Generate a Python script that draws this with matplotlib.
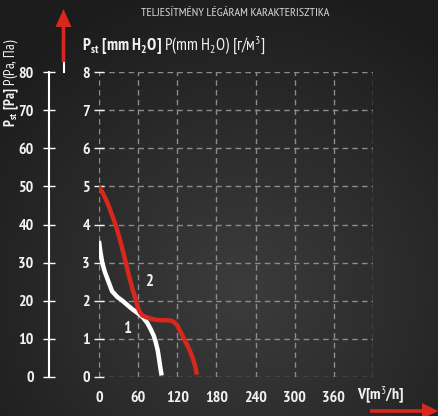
import numpy as np
import matplotlib
matplotlib.use("Agg")
import matplotlib.pyplot as plt
from matplotlib.patches import Polygon

FONT = ["PT Sans Narrow", "DejaVu Sans"]
plt.rcParams['font.family'] = FONT
plt.rcParams['mathtext.fontset'] = 'custom'
plt.rcParams['mathtext.rm'] = 'PT Sans Narrow'
plt.rcParams['mathtext.bf'] = 'PT Sans Narrow:bold'
plt.rcParams['mathtext.it'] = 'PT Sans Narrow'

# ---- data ----
title = "TELJESÍTMÉNY LÉGÁRAM KARAKTERISZTIKA"
x_ticks = [0, 60, 120, 180, 240, 300, 360]
y_ticks = [0, 1, 2, 3, 4, 5, 6, 7, 8]
pa_ticks = [0, 10, 20, 30, 40, 50, 60, 70, 80]
bottom_ticks = [0, 72, 144, 216, 288, 360]

curve1_v = [0, 2, 5, 9, 13, 20, 28, 36, 44, 51, 59, 67, 74, 79, 84, 87, 90, 92, 94, 96]
curve1_p = [3.57, 3.3, 3.0, 2.75, 2.57, 2.25, 2.1, 2.0, 1.88, 1.78, 1.68, 1.57, 1.42,
            1.26, 1.08, 0.91, 0.7, 0.48, 0.25, 0.04]
curve2_v = [0, 5, 10, 15, 20, 26, 31, 36, 41, 46, 51, 56, 59, 62, 66, 72, 80, 87, 95,
            103, 110, 115, 120, 126, 133, 139, 144, 148, 150]
curve2_p = [5.0, 4.85, 4.68, 4.48, 4.25, 3.96, 3.67, 3.35, 3.0, 2.65, 2.33, 2.04, 1.85,
            1.72, 1.62, 1.57, 1.53, 1.5, 1.49, 1.49, 1.48, 1.44, 1.35, 1.15, 0.91, 0.7,
            0.48, 0.25, 0.06]

RED = "#d8281e"
GRID = "#8c8c8c"
TXT = "#f2f2f2"

W, H = 438, 416
fig = plt.figure(figsize=(W / 100, H / 100), dpi=100)

# background radial gradient
bg = fig.add_axes([0, 0, 1, 1])
yy, xx = np.mgrid[0:H, 0:W]
r = np.sqrt(((xx - 240) / 300.0) ** 2 + ((yy - 290) / 300.0) ** 2)
val = np.clip(0.235 - 0.12 * r, 0.11, 0.235)
bg.imshow(np.dstack([val, val, val]), extent=[0, 1, 0, 1], aspect='auto', origin='upper')
bg.axis('off')

left, right = 99 / W, 373 / W
bottom, top = (H - 377) / H, (H - 72) / H
ax = fig.add_axes([left, bottom, right - left, top - bottom])
ax.patch.set_alpha(0)
ax.set_xlim(0, 420)
ax.set_ylim(0, 8)

for v in range(0, 421, 60):
    ax.axvline(v, color=GRID, lw=1, ls=(0, (4, 3)), zorder=1)
for p in range(0, 9):
    ax.axhline(p, color=GRID, lw=1, ls=(0, (4, 3)), zorder=1)
for s in ax.spines.values():
    s.set_visible(False)

ax.plot(curve1_v, curve1_p, color="white", lw=3.2, solid_capstyle='butt', zorder=3)
ax.plot(curve2_v, curve2_p, color=RED, lw=3.2, solid_capstyle='butt', zorder=3)
ax.text(43, 1.25, "1", color=TXT, fontsize=12, fontweight='bold', ha='center', va='center')
ax.text(76, 2.48, "2", color=TXT, fontsize=12, fontweight='bold', ha='center', va='center')

ax.set_xticks(x_ticks)
ax.set_xticklabels([str(t) for t in x_ticks])
ax.set_yticks(y_ticks)
ax.set_yticklabels([str(t) for t in y_ticks])
ax.tick_params(axis='x', length=0, pad=10, labelsize=11.5, labelcolor=TXT)
ax.tick_params(axis='y', direction='inout', length=7, width=1, color=TXT, pad=3,
               labelsize=11.5, labelcolor=TXT)
for lab in ax.get_xticklabels() + ax.get_yticklabels():
    lab.set_fontweight('bold')
ax.text(432, -0.47, r"V[m$^3$/h]", color=TXT, fontsize=11.5, fontweight='bold',
        ha='center', va='center', transform=ax.transData, clip_on=False)

# Pa axis
pa = ax.secondary_yaxis('left', functions=(lambda x: x * 10, lambda x: x / 10))
pa.spines['left'].set_position(('outward', 36))
pa.spines['left'].set_color("white")
pa.spines['left'].set_linewidth(1.5)
pa.set_yticks(pa_ticks)
pa.set_yticklabels([str(t) for t in pa_ticks])
pa.tick_params(direction='inout', length=8, width=1, color="white", pad=7,
               labelsize=11.5, labelcolor=TXT)
for lab in pa.get_yticklabels():
    lab.set_fontweight('bold')

# bottom decorative axis
bx = ax.secondary_xaxis('bottom')
bx.spines['bottom'].set_position(('outward', 34))
bx.spines['bottom'].set_color("white")
bx.spines['bottom'].set_linewidth(1.5)
bx.set_xticks(bottom_ticks)
bx.set_xticklabels([])
bx.tick_params(direction='inout', length=6, width=1, color="white")


def fx(px):
    return px / W


def fy(py):
    return (H - py) / H


# arrows drawn as single arrow-shaped polygons
xa = 63.5
fig.add_artist(plt.Line2D([fx(xa), fx(xa)], [fy(72), fy(62)], color="white", lw=1.5,
                          zorder=10))
up = [(xa - 1.8, 62), (xa - 1.8, 27), (xa - 8, 27), (xa, 9), (xa + 8, 27),
      (xa + 1.8, 27), (xa + 1.8, 62)]
fig.add_artist(Polygon([(fx(a), fy(b)) for a, b in up], closed=True,
                       transform=fig.transFigure, facecolor=RED, edgecolor='none',
                       zorder=10))
yb = 411
rt = [(370, yb - 1.8), (422, yb - 1.8), (422, yb - 8), (438, yb), (422, yb + 8),
      (422, yb + 1.8), (370, yb + 1.8)]
fig.add_artist(Polygon([(fx(a), fy(b)) for a, b in rt], closed=True,
                       transform=fig.transFigure, facecolor=RED, edgecolor='none',
                       zorder=10))

# texts
fig.text(0.537, fy(13), title, color="#d8d8d8", fontsize=8.8, ha='center', va='center')
fig.text(fx(82), fy(46),
         r"$\mathbf{P}_{\mathbf{st}}\ \mathbf{[mm\ H_2O]}$ P(mm H$_2$O) [г/м$^3$]",
         color=TXT, fontsize=12, ha='left', va='center')
fig.text(fx(11), fy(83),
         r"$\mathbf{P}_{\mathbf{st}}\ \mathbf{[Pa]}$ P(Pa, Па)",
         color=TXT, fontsize=10.5, ha='center', va='center', rotation=90)

fig.savefig("out.png", dpi=100)
